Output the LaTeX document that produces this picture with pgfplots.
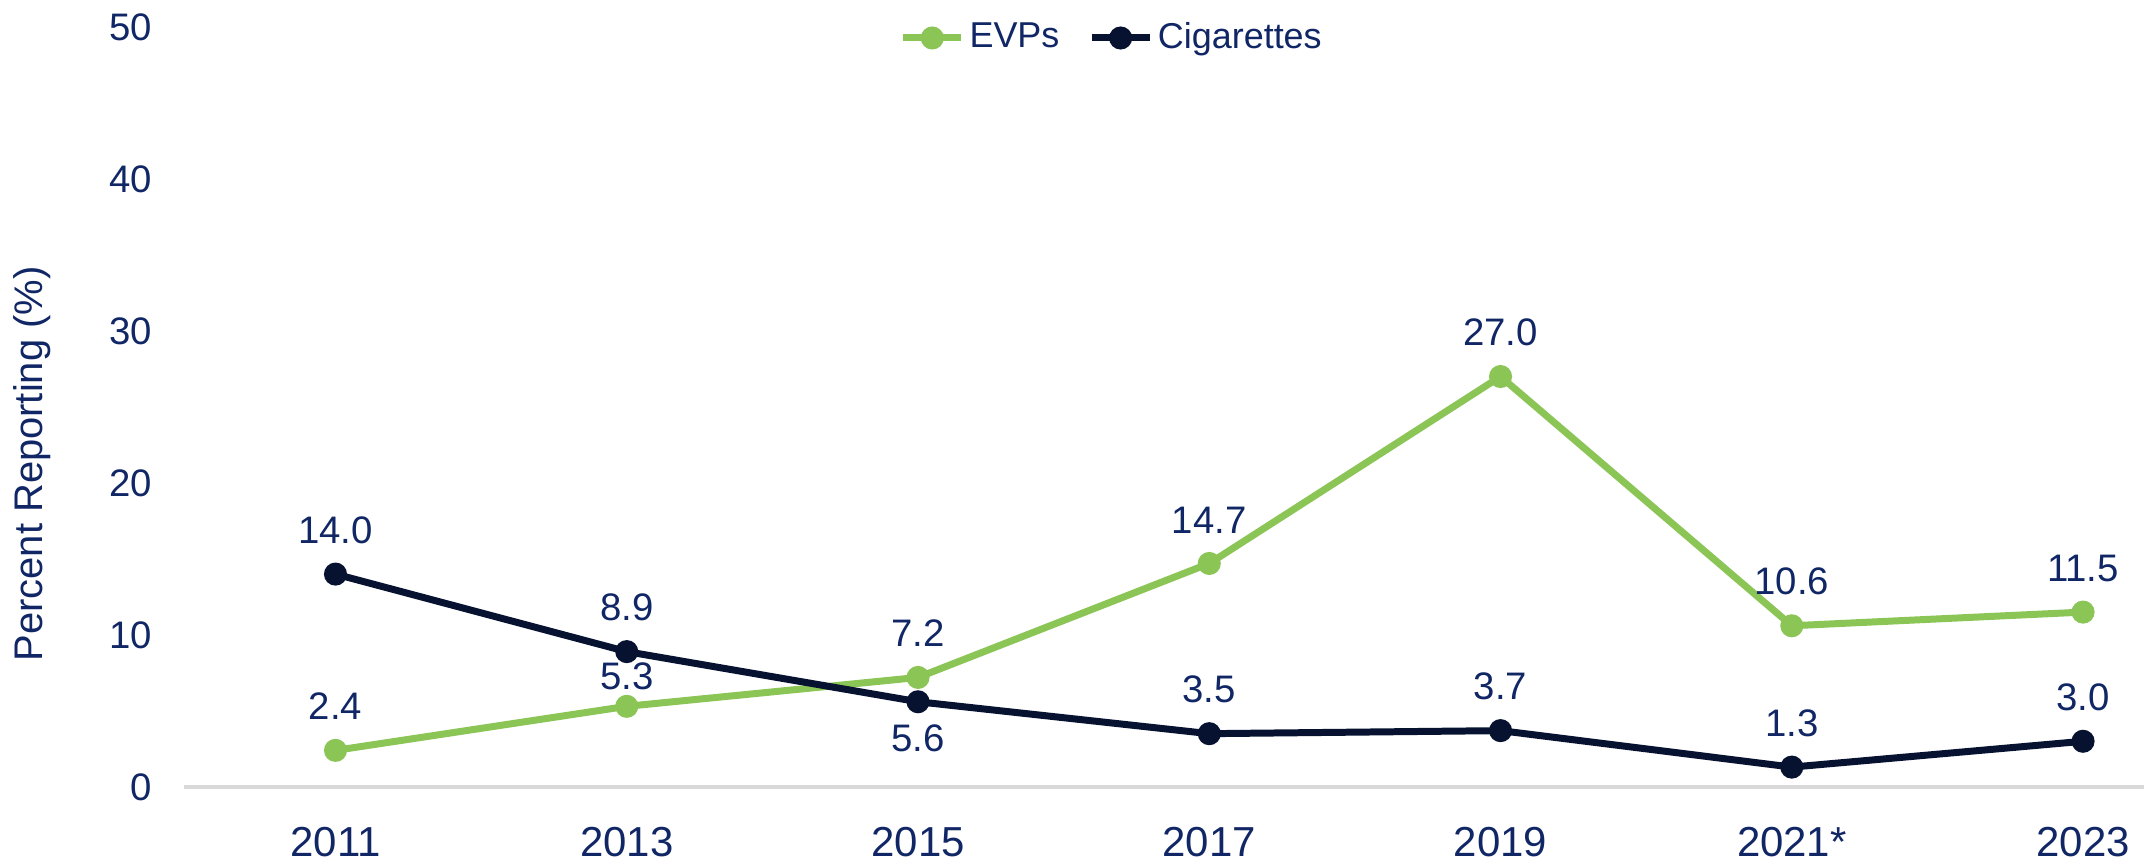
\documentclass[border=0pt]{standalone}
\usepackage{fontspec}
\setmainfont{Liberation Sans}
\usepackage{pgfplots}
\pgfplotsset{compat=1.18}

\definecolor{txt}{RGB}{16,38,101}
\definecolor{evp}{RGB}{139,197,86}
\definecolor{cig}{RGB}{6,18,48}
\definecolor{zeroline}{RGB}{217,217,217}

% data label that skips one point (its label is drawn by a separate plot)
\newcommand{\labelskip}[1]{\pgfmathparse{\coordindex==#1 ? "" : "x"}\ifx\pgfmathresult\empty\else\pgfmathprintnumber[fixed,fixed zerofill,precision=1]{\pgfplotspointmeta}\fi}

\begin{document}
\begin{tikzpicture}
\begin{axis}[
    scale only axis,
    width=490.75pt, height=190.25pt,
    xmin=-0.52, xmax=6.21,
    ymin=0, ymax=50,
    xtick={0,...,6},
    xticklabels={2011,2013,2015,2017,2019,2021*,2023},
    ytick={0,10,...,50},
    axis line style={draw=none},
    major tick length=0pt,
    clip=false,
    /pgf/number format/assume math mode=true,
    ticklabel style={text=txt},
    xticklabel style={font=\fontsize{10.5}{12}\selectfont, anchor=north, inner sep=0pt, yshift=-10pt},
    yticklabel style={font=\fontsize{9.6}{11}\selectfont, xshift=-4.5pt},
    ylabel={Percent Reporting (\%)},
    ylabel style={at={(axis description cs:-0.0776,0.425)}, anchor=center,
        font=\fontsize{10}{12}\selectfont, text=txt},
    nodes near coords={\pgfmathprintnumber[fixed,fixed zerofill,precision=1]{\pgfplotspointmeta}},
    every node near coord/.append style={font=\fontsize{9.6}{12}\selectfont,
        text=txt, anchor=south, inner sep=0pt, yshift=6.75pt},
    legend columns=2,
    legend style={draw=none, fill=none, at={(rel axis cs:0.474,0.9855)}, anchor=center,
        font=\fontsize{9}{11}\selectfont, text=txt,
        nodes={inner sep=1.2pt},
        /tikz/every even column/.append style={column sep=6pt}},
    legend image code/.code={
        \draw[#1, mark=none] (0pt,0pt) -- (14.5pt,0pt);
        \draw[#1, only marks] plot coordinates {(7.25pt,0pt)};
    },
]
\draw[zeroline, line width=0.9pt] (rel axis cs:0,0) -- (rel axis cs:1,0);
\path (rel axis cs:-0.0932,-0.0999) rectangle (rel axis cs:1.0,1.0355);

\addplot[evp, line width=1.75pt, mark=*, mark size=2pt,
    nodes near coords={\labelskip{1}}] coordinates {
    (0,2.4) (1,5.3) (2,7.2) (3,14.7) (4,27.0) (5,10.6) (6,11.5)
};
\addlegendentry{EVPs}

\addplot[cig, line width=1.75pt, mark=*, mark size=2pt,
    nodes near coords={\labelskip{2}}] coordinates {
    (0,14.0) (1,8.9) (2,5.6) (3,3.5) (4,3.7) (5,1.3) (6,3.0)
};
\addlegendentry{Cigarettes}

% labels placed apart from the rest
\addplot[draw=none, forget plot,
    every node near coord/.append style={yshift=-2.75pt}] coordinates {(1,5.3)};
\addplot[draw=none, forget plot,
    every node near coord/.append style={anchor=north, yshift=-12.25pt}] coordinates {(2,5.6)};
\end{axis}
\end{tikzpicture}
\end{document}
